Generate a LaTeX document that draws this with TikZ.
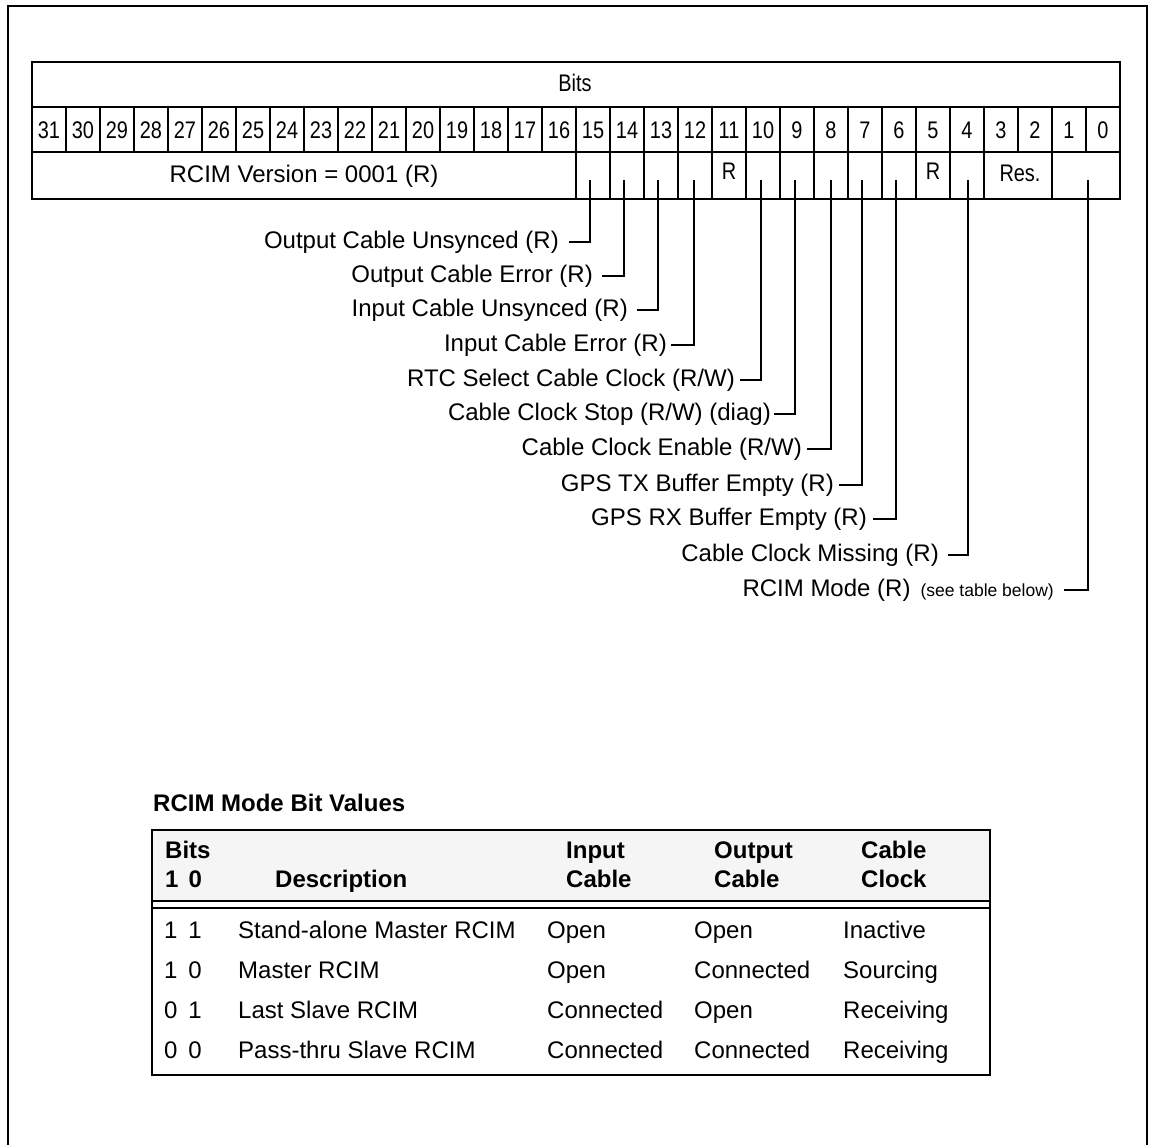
\documentclass[tikz,border=0pt]{standalone}
\usepackage{fontspec}
\setmainfont{Liberation Sans}
\newcommand{\narrowtxt}[1]{\scalebox{0.83}[1]{#1}}
\begin{document}
\begin{tikzpicture}[x=1pt,y=-1pt,
  lbl/.style={anchor=east,inner sep=0pt,font=\fontsize{24}{28}\selectfont},
  num/.style={inner sep=0pt,font=\fontsize{24}{28}\selectfont},
  cell/.style={inner sep=0pt,font=\fontsize{24}{28}\selectfont},
  hd/.style={anchor=base west,inner sep=0pt,font=\bfseries\fontsize{24}{28}\selectfont},
  td/.style={anchor=base west,inner sep=0pt,font=\fontsize{24}{28}\selectfont},
  outerline/.style={line width=1.8pt},
  innerline/.style={line width=1.3pt},
  conn/.style={line width=1.6pt},
]
\useasboundingbox (0,0) rectangle (1150,1144);
% page frame
\draw[outerline] (8,1150) -- (8,6) -- (1147,6) -- (1147,1150);

% register table
\draw[innerline] (32,107) -- (1120,107) (32,152) -- (1120,152);
\foreach \i in {1,...,31} \draw[innerline] ({32+34*\i},107) -- ({32+34*\i},152);
\foreach \i in {16,...,28,30} \draw[innerline] ({32+34*\i},152) -- ({32+34*\i},199);
\draw[outerline] (32,62) rectangle (1120,199);

\node[num] (bitsh) at (575,83) {\narrowtxt{Bits}};
\foreach \b in {0,...,31} \node[num] (n\b) at ({49+34*(31-\b)},130) {\narrowtxt{\b}};
\node[cell] (ver) at (304,176) {RCIM Version = 0001 (R)};
\node[num] (r11) at (729,171) {\narrowtxt{R}};
\node[num] (r5) at (933,171) {\narrowtxt{R}};
\node[num] (res) at (1020,173) {\narrowtxt{Res.}};

% tick points
\foreach \n/\x in {15/590,14/624,13/658,12/694,10/761,9/795,8/831,7/862,6/896,4/968,1/1088}
  \coordinate (t\n) at (\x,180);

% labels
\node[lbl] (l15) at (559,242) {Output Cable Unsynced (R)};
\node[lbl] (l14) at (593,276) {Output Cable Error (R)};
\node[lbl] (l13) at (628,310) {Input Cable Unsynced (R)};
\node[lbl] (l12) at (667,345) {Input Cable Error (R)};
\node[lbl] (l10) at (735,380) {RTC Select Cable Clock (R/W)};
\node[lbl] (l9) at (771,414) {Cable Clock Stop (R/W) (diag)};
\node[lbl] (l8) at (802,449) {Cable Clock Enable (R/W)};
\node[lbl] (l7) at (834,485) {GPS TX Buffer Empty (R)};
\node[lbl] (l6) at (867,519) {GPS RX Buffer Empty (R)};
\node[lbl] (l4) at (939,555) {Cable Clock Missing (R)};
\node[lbl] (l1) at (1054,590) {RCIM Mode (R)\hspace{10pt}{\fontsize{17.5}{20}\selectfont(see table below)}};

\draw[conn] ([xshift=10pt]l15.east) -| (t15);
\draw[conn] ([xshift=9pt]l14.east) -| (t14);
\draw[conn] ([xshift=9pt]l13.east) -| (t13);
\draw[conn] ([xshift=4pt]l12.east) -| (t12);
\draw[conn] ([xshift=5pt]l10.east) -| (t10);
\draw[conn] ([xshift=3pt]l9.east) -| (t9);
\draw[conn] ([xshift=5pt]l8.east) -| (t8);
\draw[conn] ([xshift=5pt]l7.east) -| (t7);
\draw[conn] ([xshift=6pt]l6.east) -| (t6);
\draw[conn] ([xshift=9pt]l4.east) -| (t4);
\draw[conn] ([xshift=10pt]l1.east) -| (t1);

% mode table
\node[hd] (ttl) at (153,811) {RCIM Mode Bit Values};
\fill[black!4] (152,830) rectangle (990,901);
\draw[outerline] (152,830) rectangle (990,1075);
\draw[outerline] (152,901) -- (990,901) (152,908) -- (990,908);

\node[hd] (hb1) at (165,858) {Bits};
\node[hd] (hb2) at (165,887) {1\hspace{0.42em}0};
\node[hd] (hd) at (275,887) {Description};
\node[hd] (hi1) at (566,858) {Input};
\node[hd] (hi2) at (566,887) {Cable};
\node[hd] (ho1) at (714,858) {Output};
\node[hd] (ho2) at (714,887) {Cable};
\node[hd] (hc1) at (861,858) {Cable};
\node[hd] (hc2) at (861,887) {Clock};

\node[td] (ab) at (164,938) {1\hspace{0.45em}1};
\node[td] (ad) at (238,938) {Stand-alone Master RCIM};
\node[td] (ai) at (547,938) {Open};
\node[td] (ao) at (694,938) {Open};
\node[td] (ac) at (843,938) {Inactive};

\node[td] (bb) at (164,978) {1\hspace{0.45em}0};
\node[td] (bd) at (238,978) {Master RCIM};
\node[td] (bi) at (547,978) {Open};
\node[td] (bo) at (694,978) {Connected};
\node[td] (bc) at (843,978) {Sourcing};

\node[td] (cb) at (164,1018) {0\hspace{0.45em}1};
\node[td] (cd) at (238,1018) {Last Slave RCIM};
\node[td] (ci) at (547,1018) {Connected};
\node[td] (co) at (694,1018) {Open};
\node[td] (cc) at (843,1018) {Receiving};

\node[td] (db) at (164,1058) {0\hspace{0.45em}0};
\node[td] (dd) at (238,1058) {Pass-thru Slave RCIM};
\node[td] (di) at (547,1058) {Connected};
\node[td] (do) at (694,1058) {Connected};
\node[td] (dc) at (843,1058) {Receiving};
\end{tikzpicture}
\end{document}
